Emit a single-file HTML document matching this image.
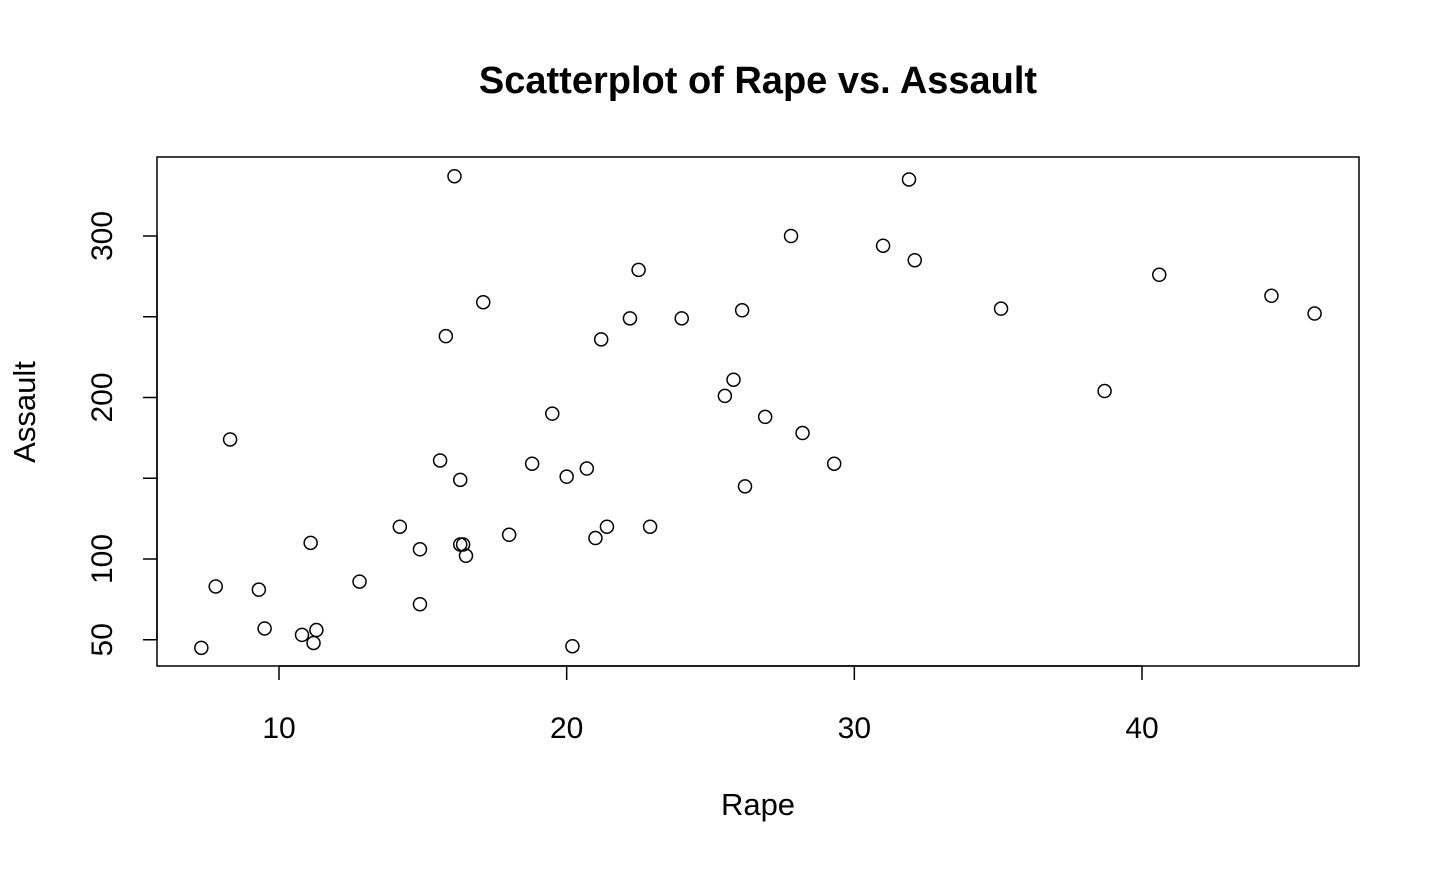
<!DOCTYPE html>
<html><head><meta charset="utf-8"><style>
html,body{margin:0;padding:0;background:#fff;}
svg text{font-family:"Liberation Sans",Arial,sans-serif;fill:#000;}
</style></head><body>
<svg id="chart" width="1440" height="864" viewBox="0 0 1440 864" xmlns="http://www.w3.org/2000/svg">
<text x="758" y="93" text-anchor="middle" font-size="38" font-weight="bold">Scatterplot of Rape vs. Assault</text>
<rect x="157" y="157" width="1202" height="509" fill="none" stroke="#000" stroke-width="1.5"/>
<text x="758" y="815" text-anchor="middle" font-size="31">Rape</text>
<text transform="translate(35,412) rotate(-90)" text-anchor="middle" font-size="31">Assault</text>
<g id="axes"></g>
<g id="points"></g>
</svg>
<script>
const rape=[21.2,44.5,31.0,19.5,40.6,38.7,11.1,15.8,31.9,25.8,20.2,14.2,24.0,21.0,11.3,18.0,16.3,22.2,7.8,27.8,16.3,35.1,14.9,17.1,28.2,16.4,16.5,46.0,9.5,18.8,32.1,26.1,16.1,7.3,21.4,20.0,29.3,14.9,8.3,22.5,12.8,26.9,25.5,22.9,11.2,20.7,26.2,9.3,10.8,15.6];
const assault=[236,263,294,190,276,204,110,238,335,211,46,120,249,113,56,115,109,249,83,300,149,255,72,259,178,109,102,252,57,159,285,254,337,45,120,151,159,106,174,279,86,188,201,120,48,156,145,81,53,161];
const xTicks=[10,20,30,40];
const yTicks=[50,100,150,200,250,300];
const yLabels=["50","100","","200","","300"];
const NS="http://www.w3.org/2000/svg";
function xs(v){return 279+(v-10)*(1142-279)/30;}
function ys(v){return 559-(v-100)*(559-236)/200;}
const axes=document.getElementById('axes');
function mk(t,a,p){const e=document.createElementNS(NS,t);for(const k in a)e.setAttribute(k,a[k]);p.appendChild(e);return e;}
mk('line',{x1:xs(10),x2:xs(40),y1:666,y2:666,stroke:'#000','stroke-width':1.5},axes);
xTicks.forEach(t=>{
  const l=mk('line',{x1:xs(t),x2:xs(t),y1:666,y2:680,stroke:'#000','stroke-width':1.5},axes);
  
  
  const tx=mk('text',{x:xs(t),y:738,'text-anchor':'middle','font-size':30},axes);
  tx.textContent=t;
  
  
});
mk('line',{x1:157,x2:157,y1:ys(50),y2:ys(300),stroke:'#000','stroke-width':1.5},axes);
yTicks.forEach((t,i)=>{
  const l=mk('line',{x1:143,x2:157,y1:ys(t),y2:ys(t),stroke:'#000','stroke-width':1.5},axes);
  
  
  if(yLabels[i]){
    const tx=mk('text',{transform:`translate(112,${ys(t)}) rotate(-90)`,'text-anchor':'middle','font-size':30},axes);
    tx.textContent=yLabels[i];
    
    
  }
});
const pts=document.getElementById('points');
rape.forEach((r,i)=>{
  const c=mk('circle',{cx:xs(r),cy:ys(assault[i]),r:6.5,fill:'none',stroke:'#000','stroke-width':1.5},pts);
  
  
});
</script>
</body></html>
